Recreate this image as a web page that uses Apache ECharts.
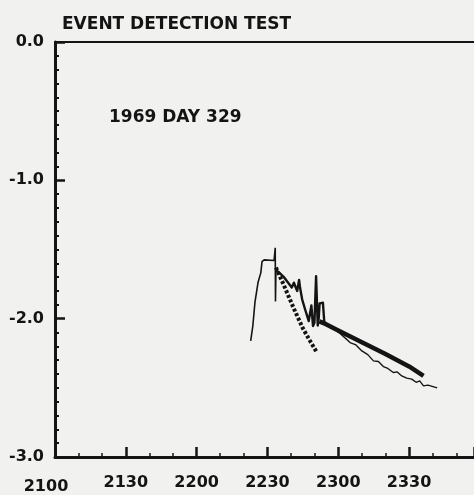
<!DOCTYPE html>
<html>
<head>
<meta charset="utf-8">
<script src="https://cdn.jsdelivr.net/npm/echarts@6/dist/echarts.min.js"></script>
<style>
html,body{margin:0;padding:0;background:#f1f1ef;}
#c{width:474px;height:495px;}
</style>
</head>
<body>
<div id="c"></div>
<script>
// x values are minutes after 2100 (time HHMM); y values are the plotted quantity
var titleText = 'EVENT DETECTION TEST';
var subtitleText = '1969 DAY 329';
var xTickValues = [0, 30, 60, 90, 120, 150];
var xTickLabels = ['2100', '2130', '2200', '2230', '2300', '2330'];
var yTickValues = [0, -1, -2, -3];
var yTickLabels = ['0.0', '-1.0', '-2.0', '-3.0'];

// thin rising trace with plateau and spike
var riseX = [82.9, 83.8, 84.7, 86.0, 87.2, 87.7, 88.6, 92.8, 93.2, 93.3, 93.4, 93.6];
var riseY = [-2.161, -2.053, -1.883, -1.739, -1.667, -1.588, -1.575, -1.580, -1.588, -1.487, -1.875, -1.65];

// steep dotted descent
var steepX = [93.6, 97.0, 101.0, 105.0, 108.0, 110.9];
var steepY = [-1.63, -1.76, -1.92, -2.07, -2.16, -2.243];

// spiky section of the main trace
var spikeX = [93.6, 94.5, 97.0, 100.3, 101.2, 101.7, 102.6, 103.4, 103.8, 104.7, 105.9, 107.5, 108.6, 109.3, 109.9, 110.6, 111.3, 111.7, 112.1, 112.6, 113.5, 114.1, 114.8];
var spikeY = [-1.65, -1.66, -1.70, -1.775, -1.74, -1.745, -1.80, -1.72, -1.775, -1.86, -1.93, -2.017, -1.904, -2.053, -2.03, -1.693, -2.05, -2.0, -1.89, -1.885, -1.885, -2.03, -2.04];

// straight heavy decline of the main trace
var mainX = [112.0, 114.8, 120.0, 130.0, 140.0, 150.0, 156.1];
var mainY = [-2.02, -2.04, -2.085, -2.17, -2.255, -2.345, -2.414];

// thin lower trace
var lowX = [117.0, 121.0, 125.0, 127.5, 130.0, 132.5, 134.9, 137.0, 139.1, 141.0, 143.3, 145.0, 146.9, 149.0, 151.1, 153.0, 154.5, 156.1, 158.0, 161.9];
var lowY = [-2.06, -2.11, -2.173, -2.19, -2.233, -2.26, -2.305, -2.31, -2.346, -2.36, -2.389, -2.385, -2.414, -2.43, -2.437, -2.46, -2.45, -2.486, -2.48, -2.50];

function pairs(xs, ys) { return xs.map(function (x, i) { return [x, ys[i]]; }); }

var ink = '#141414';
var font = 'DejaVu Sans';
var chart = echarts.init(document.getElementById('c'), null, {renderer: 'canvas'});
chart.setOption({
  backgroundColor: '#f1f1ef',
  animation: false,
  title: [
    {text: titleText, left: 57, top: 11, textStyle: {fontFamily: font, fontWeight: 'bold', fontSize: 17, color: ink}},
    {text: subtitleText, left: 104, top: 104, textStyle: {fontFamily: font, fontWeight: 'bold', fontSize: 17, color: ink}}
  ],
  grid: {left: 55, right: 0, top: 42, bottom: 37},
  xAxis: [{
    type: 'value', min: 0, max: 177.5, interval: 30, position: 'bottom',
    axisLine: {onZero: false, lineStyle: {color: ink, width: 3}},
    axisTick: {inside: true, length: 10, lineStyle: {color: ink, width: 2.5}},
    minorTick: {show: true, splitNumber: 3, length: 4, lineStyle: {color: ink, width: 1.5}},
    splitLine: {show: false},
    axisLabel: {
      margin: 18, fontFamily: font, fontWeight: 'bold', fontSize: 16, color: ink,
      showMaxLabel: false,
      formatter: function (v) {
        var i = xTickValues.indexOf(v);
        if (i < 0) return '';
        return i === 0 ? '{f|' + xTickLabels[i] + '}' : xTickLabels[i];
      },
      rich: {f: {fontFamily: font, fontWeight: 'bold', fontSize: 16, color: ink, padding: [4, 18, 0, 0]}}
    }
  }, {
    type: 'value', position: 'top', min: 0, max: 177.5,
    axisLine: {show: true, onZero: false, lineStyle: {color: ink, width: 2}},
    axisTick: {show: false}, axisLabel: {show: false}, splitLine: {show: false}
  }],
  yAxis: {
    type: 'value', min: -3, max: 0, interval: 1,
    axisLine: {onZero: false, lineStyle: {color: ink, width: 3}},
    axisTick: {inside: true, length: 10, lineStyle: {color: ink, width: 2.5}},
    minorTick: {show: true, splitNumber: 10, length: 4, lineStyle: {color: ink, width: 2}},
    splitLine: {show: false},
    axisLabel: {
      margin: 11, fontFamily: font, fontWeight: 'bold', fontSize: 16, color: ink,
      formatter: function (v) {
        var i = yTickValues.indexOf(v);
        return i < 0 ? '' : yTickLabels[i];
      }
    }
  },
  series: [
    {type: 'line', data: pairs(riseX, riseY), showSymbol: false, lineStyle: {color: ink, width: 1.6}},
    {type: 'line', data: pairs(steepX, steepY), showSymbol: false, lineStyle: {color: ink, width: 4, type: [3, 2]}},
    {type: 'line', data: pairs(lowX, lowY), showSymbol: false, lineStyle: {color: ink, width: 1.4}},
    {type: 'line', data: pairs(spikeX, spikeY), showSymbol: false, lineStyle: {color: ink, width: 2.4, join: 'round'}},
    {type: 'line', data: pairs(mainX, mainY), showSymbol: false, lineStyle: {color: ink, width: 4.5, join: 'round'}}
  ]
});
</script>
</body>
</html>
